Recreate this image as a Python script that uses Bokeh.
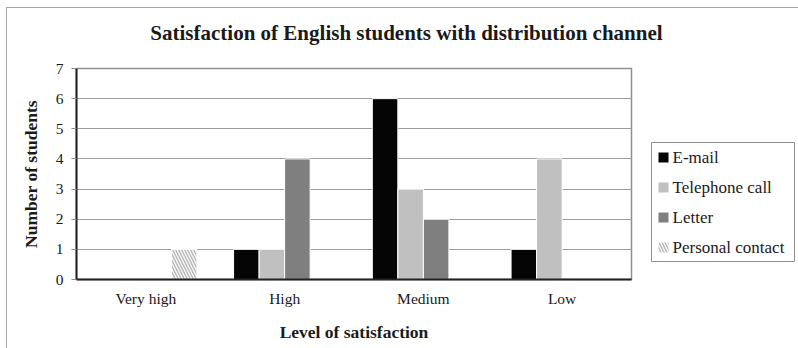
from bokeh.core.properties import value
from bokeh.embed import file_html
from bokeh.layouts import column, row
from bokeh.models import ColumnDataSource, FactorRange, FixedTicker, Range1d
from bokeh.plotting import figure
from bokeh.resources import INLINE
from bokeh.transform import dodge

# Survey results: number of students per satisfaction level and channel
levels = ["Very high", "High", "Medium", "Low"]
channels = ["E-mail", "Telephone call", "Letter", "Personal contact"]
email = [0, 1, 6, 1]
telephone = [0, 1, 3, 4]
letter = [0, 4, 2, 0]
personal = [1, 0, 0, 0]
y_ticks = [0, 1, 2, 3, 4, 5, 6, 7]

title_text = "Satisfaction of English students with distribution channel"
x_title = "Level of satisfaction"
y_title = "Number of students"

SERIF = "Liberation Serif"
INK = "#1a1a1a"

columns = ["email", "telephone", "letter", "personal"]
fills = ["#050505", "#c0c0c0", "#7f7f7f", "white"]
HATCH = dict(hatch_pattern="\\", hatch_color="#b8b8b8", hatch_scale=6,
             hatch_weight=1.5)


def bar_style(col, edge="white"):
    style = dict(fill_color=fills[columns.index(col)], line_color=edge,
                 line_width=1)
    if col == "personal":
        style.update(HATCH)
    return style


# ---- title strip (pixel-scaled ranges) ------------------------------------
head = figure(width=792, height=53, x_range=Range1d(0, 792),
              y_range=Range1d(0, 53), min_border=0, output_backend="svg",
              toolbar_location=None, title=None)
head.axis.visible = False
head.grid.visible = False
head.outline_line_color = None
head.text(x=[399], y=[29], text=[title_text], text_font=value(SERIF),
          text_font_size="21px", text_font_style="bold", text_color=INK,
          text_align="center", text_baseline="middle")

# ---- bar chart -----------------------------------------------------------
source = ColumnDataSource(dict(level=levels, email=email, telephone=telephone,
                               letter=letter, personal=personal))

p = figure(x_range=FactorRange(factors=levels), y_range=Range1d(0, 7),
           width=634, height=288, min_border_left=69, min_border_right=10,
           min_border_top=7, min_border_bottom=70, title=None,
           output_backend="svg", toolbar_location=None)

bw = 0.184
offsets = [-1.5 * bw, -0.5 * bw, 0.5 * bw, 1.5 * bw]
for col, off in zip(columns, offsets):
    p.vbar(x=dodge("level", off, range=p.x_range), top=col, width=bw,
           source=source, **bar_style(col))

p.xgrid.grid_line_color = None
p.ygrid.ticker = FixedTicker(ticks=y_ticks)
p.ygrid.grid_line_color = "#9c9c9c"
p.ygrid.grid_line_width = 1
p.outline_line_color = "#8f8f8f"
p.outline_line_width = 1.5

p.yaxis.ticker = FixedTicker(ticks=y_ticks)
p.yaxis.minor_tick_line_color = None
p.yaxis.major_tick_out = 5
p.yaxis.major_tick_in = 0
p.yaxis.major_tick_line_color = "#8f8f8f"
p.yaxis.major_label_standoff = 8
p.yaxis.axis_label = y_title
p.yaxis.axis_label_standoff = 12
p.xaxis.major_tick_line_color = None
p.xaxis.major_tick_out = 0
p.xaxis.major_label_standoff = 10
p.xaxis.axis_label = x_title
p.xaxis.axis_label_standoff = 12
for ax in (p.xaxis[0], p.yaxis[0]):
    ax.axis_line_color = "#222222"
    ax.axis_line_width = 2
    ax.major_label_text_font = SERIF
    ax.major_label_text_font_size = "15.5px"
    ax.major_label_text_color = INK
    ax.axis_label_text_font = SERIF
    ax.axis_label_text_font_size = "17.5px"
    ax.axis_label_text_font_style = "bold"
    ax.axis_label_text_color = INK

# ---- legend panel: ranges in page pixels, y grows downward -----------------
key = figure(width=158, height=288, x_range=Range1d(640, 798),
             y_range=Range1d(278, 67), min_border_left=0, min_border_right=0,
             min_border_top=7, min_border_bottom=70, output_backend="svg",
             toolbar_location=None, title=None)
key.axis.visible = False
key.grid.visible = False
key.outline_line_color = None

key.quad(left=[650], right=[793], top=[141], bottom=[260], fill_color=None,
         line_color="#8f8f8f", line_width=1)
row_y = [156, 186, 216, 246]
for col, name, y in zip(columns, channels, row_y):
    style = bar_style(col, edge=None)
    key.rect(x=[662], y=[y], width=10, height=10, **style)
    key.text(x=[671], y=[y], text=[name], text_font=value(SERIF),
             text_font_size="17px", text_color=INK, text_align="left",
             text_baseline="middle")

page = column(head, row(p, key), margin=(7, 0, 0, 6))
page.styles = {"border-left": "1px solid #a6a6a6",
               "border-top": "1px solid #a6a6a6"}

open("out.html", "w").write(file_html(page, INLINE))
